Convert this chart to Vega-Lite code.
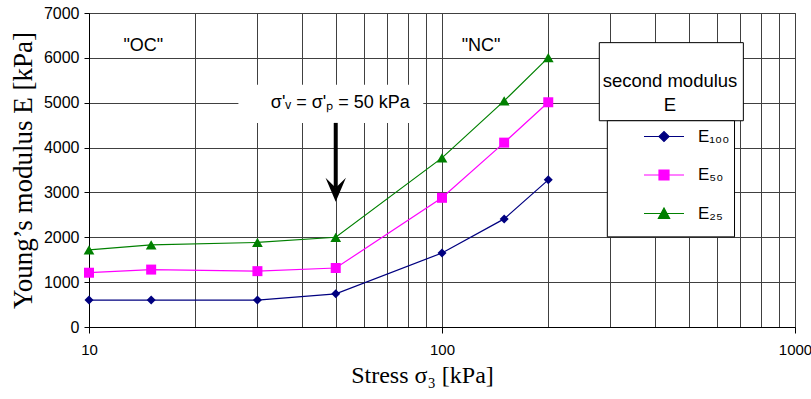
{
  "$schema": "https://vega.github.io/schema/vega-lite/v6.json",
  "width": 706,
  "height": 314,
  "autosize": {"type": "none"},
  "padding": {"left": 89, "top": 13, "right": 16, "bottom": 72},
  "background": "white",
  "config": {"view": {"stroke": "#404040", "strokeWidth": 1}},
  "datasets": {
    "series": [
      {"series": "E₁₀₀", "stress": 10, "E": 600},
      {"series": "E₁₀₀", "stress": 15, "E": 600},
      {"series": "E₁₀₀", "stress": 30, "E": 600},
      {"series": "E₁₀₀", "stress": 50, "E": 740},
      {"series": "E₁₀₀", "stress": 100, "E": 1650},
      {"series": "E₁₀₀", "stress": 150, "E": 2410},
      {"series": "E₁₀₀", "stress": 200, "E": 3280},
      {"series": "E₅₀", "stress": 10, "E": 1210},
      {"series": "E₅₀", "stress": 15, "E": 1280},
      {"series": "E₅₀", "stress": 30, "E": 1245},
      {"series": "E₅₀", "stress": 50, "E": 1315},
      {"series": "E₅₀", "stress": 100, "E": 2880},
      {"series": "E₅₀", "stress": 150, "E": 4110},
      {"series": "E₅₀", "stress": 200, "E": 5010},
      {"series": "E₂₅", "stress": 10, "E": 1720},
      {"series": "E₂₅", "stress": 15, "E": 1830},
      {"series": "E₂₅", "stress": 30, "E": 1885},
      {"series": "E₂₅", "stress": 50, "E": 2000},
      {"series": "E₂₅", "stress": 100, "E": 3770},
      {"series": "E₂₅", "stress": 150, "E": 5040},
      {"series": "E₂₅", "stress": 200, "E": 6005}
    ],
    "labelbox": [{"stress": 26.5, "stress2": 88.5, "E": 4550, "E2": 5400}],
    "legendboxes": [
      {"stress": 279, "stress2": 714, "E": 4598, "E2": 6339},
      {"stress": 294, "stress2": 674, "E": 2009, "E2": 4598}
    ],
    "arrow": [{"stress": 50, "E": 4550, "E2": 3100}],
    "arrowhead": [{"stress": 50, "E": 3058}],
    "note": [{"stress": 51.5, "E": 5000, "text": "σ'ᵥ = σ'ₚ = 50 kPa"}],
    "zones": [
      {"stress": 14.25, "E": 6272, "text": "\"OC\""},
      {"stress": 129, "E": 6272, "text": "\"NC\""}
    ]
  },
  "encoding": {
    "x": {
      "field": "stress",
      "type": "quantitative",
      "title": "Stress σ₃ [kPa]",
      "scale": {"type": "log", "domain": [10, 1000], "nice": false},
      "axis": {
        "values": [10, 20, 30, 40, 50, 60, 70, 80, 90, 100, 200, 300, 400, 500, 600, 700, 800, 900, 1000],
        "format": "d",
        "labelExpr": "(datum.value == 10 || datum.value == 100 || datum.value == 1000) ? datum.label : ''",
        "labelFlush": false,
        "labelOverlap": false,
        "grid": true,
        "gridColor": "#404040",
        "gridOpacity": 1,
        "gridWidth": 1,
        "domainColor": "black",
        "tickColor": "black",
        "tickSize": 6,
        "tickOpacity": {"condition": {"test": "datum.value == 10 || datum.value == 100 || datum.value == 1000", "value": 1}, "value": 0},
        "labelFont": "Liberation Sans",
        "labelFontSize": 15,
        "labelColor": "black",
        "labelPadding": 9,
        "titleFont": "Liberation Serif",
        "titleFontSize": 24,
        "titleFontWeight": "normal",
        "titleColor": "black",
        "titlePadding": 6,
        "titleX": 333
      }
    },
    "y": {
      "field": "E",
      "type": "quantitative",
      "title": "Young’s modulus E [kPa]",
      "scale": {"domain": [0, 7000], "nice": false},
      "axis": {
        "values": [0, 1000, 2000, 3000, 4000, 5000, 6000, 7000],
        "format": "d",
        "grid": true,
        "gridColor": "#404040",
        "gridOpacity": 1,
        "gridWidth": 1,
        "domainColor": "black",
        "tickColor": "black",
        "tickSize": 5,
        "labelFont": "Liberation Sans",
        "labelFontSize": 16,
        "labelColor": "black",
        "labelPadding": 5,
        "titleFont": "Liberation Serif",
        "titleFontSize": 27,
        "titleFontWeight": "normal",
        "titleColor": "black",
        "titlePadding": 6
      }
    }
  },
  "layer": [
    {
      "data": {"name": "labelbox"},
      "mark": {"type": "rect", "fill": "white", "strokeWidth": 0},
      "encoding": {"x2": {"field": "stress2"}, "y2": {"field": "E2"}}
    },
    {
      "data": {"name": "legendboxes"},
      "mark": {"type": "rect", "fill": "white", "stroke": "black", "strokeWidth": 1},
      "encoding": {"x2": {"field": "stress2"}, "y2": {"field": "E2"}}
    },
    {
      "data": {"name": "series"},
      "encoding": {
        "color": {
          "field": "series",
          "type": "nominal",
          "scale": {"domain": ["E₁₀₀", "E₅₀", "E₂₅"], "range": ["#000080", "#ff00ff", "#008000"]},
          "legend": {
            "orient": "none",
            "legendX": 514,
            "legendY": 59,
            "title": ["second modulus", "E"],
            "titleFont": "Liberation Sans",
            "titleFontSize": 18.5,
            "titleFontWeight": "normal",
            "titleColor": "black",
            "titleAlign": "center",
            "titleAnchor": "middle",
            "titleLineHeight": 24,
            "titlePadding": 1,
            "labelFont": "Liberation Sans",
            "labelFontSize": 17,
            "labelColor": "black",
            "labelOffset": 13,
            "symbolSize": 1600,
            "symbolOffset": 32,
            "rowPadding": 9.5,
            "padding": 0,
            "encode": {
              "symbols": {
                "update": {
                  "shape": {"signal": "datum.value === 'E₁₀₀' ? 'M-1,0H-0.25L0,-0.25L0.25,0H1M0.25,0L0,0.25L-0.25,0Z' : (datum.value === 'E₅₀' ? 'M-1,0H1M-0.25,-0.25H0.25V0.25H-0.25Z' : 'M-1,0H1M0,-0.27L0.28,0.24H-0.28Z')"},
                  "size": {"value": 1600},
                  "fill": {"signal": "scale('color', datum.value)"},
                  "stroke": {"signal": "scale('color', datum.value)"},
                  "strokeWidth": {"value": 1.2},
                  "opacity": {"value": 1},
                  "fillOpacity": {"value": 1},
                  "strokeOpacity": {"value": 1}
                }
              }
            }
          }
        }
      },
      "layer": [
        {"mark": {"type": "line", "strokeWidth": 1.2}},
        {
          "transform": [{"filter": "datum.series === 'E₁₀₀'"}],
          "mark": {"type": "point", "shape": "diamond", "size": 81, "filled": true, "opacity": 1}
        },
        {
          "transform": [{"filter": "datum.series === 'E₅₀'"}],
          "mark": {"type": "point", "shape": "square", "size": 100, "filled": true, "opacity": 1}
        },
        {
          "transform": [{"filter": "datum.series === 'E₂₅'"}],
          "mark": {"type": "point", "shape": "triangle-up", "size": 115, "filled": true, "opacity": 1}
        }
      ]
    },
    {
      "data": {"name": "arrow"},
      "mark": {"type": "rule", "color": "black", "strokeWidth": 4},
      "encoding": {"y2": {"field": "E2"}}
    },
    {
      "data": {"name": "arrowhead"},
      "mark": {"type": "point", "shape": "M0,1L-0.85,-1L0,-0.17L0.85,-1Z", "filled": true, "color": "black", "opacity": 1, "size": 576, "strokeWidth": 0}
    },
    {
      "data": {"name": "note"},
      "mark": {"type": "text", "font": "Liberation Sans", "fontSize": 18, "color": "black", "align": "center", "baseline": "middle"},
      "encoding": {"text": {"field": "text"}}
    },
    {
      "data": {"name": "zones"},
      "mark": {"type": "text", "font": "Liberation Sans", "fontSize": 18, "color": "black", "align": "center", "baseline": "middle"},
      "encoding": {"text": {"field": "text"}}
    }
  ]
}
